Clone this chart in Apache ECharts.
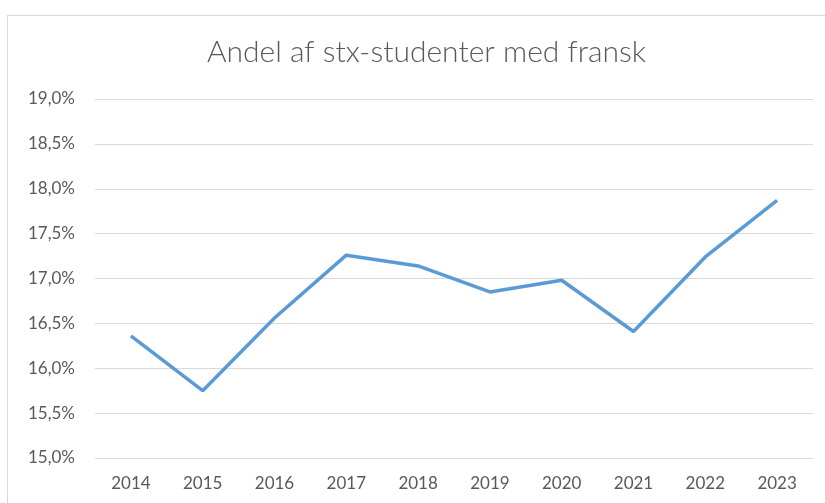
<!DOCTYPE html>
<html>
<head>
<meta charset="utf-8">
<script src="https://cdn.jsdelivr.net/npm/echarts@6/dist/echarts.min.js"></script>
<style>
  html, body { margin: 0; padding: 0; background: #fff; }
  #frame {
    position: absolute; left: 7px; top: 15px; width: 830px; height: 500px;
    border-left: 1px solid #d9d9d9; border-top: 1px solid #d9d9d9;
  }
  #myChart { position: absolute; left: 0; top: 0; width: 825px; height: 503px; }
</style>
</head>
<body>
<div id="frame"></div>
<div id="myChart"></div>
<script>
// data
const years = ["2014", "2015", "2016", "2017", "2018", "2019", "2020", "2021", "2022", "2023"];
const shareFrench = [16.36, 15.75, 16.56, 17.26, 17.14, 16.85, 16.98, 16.41, 17.24, 17.87];
const yMin = 15, yMax = 19, yStep = 0.5;

const chart = echarts.init(document.getElementById("myChart"));
const fmt = (v) => v.toFixed(1).replace(".", ",") + "%";

chart.setOption({
  animation: false,
  textStyle: { fontFamily: "Lato, 'Open Sans', sans-serif" },
  title: {
    text: "Andel af stx-studenter med fransk",
    left: 202,
    top: 32,
    textStyle: { fontSize: 30, fontWeight: 300, color: "#595959", fontFamily: "Lato, sans-serif" },
  },
  grid: { left: 95, right: 12, top: 99, bottom: 45 },
  xAxis: {
    type: "category",
    data: years,
    boundaryGap: true,
    axisLine: { show: false },
    axisTick: { show: false },
    axisLabel: { color: "#595959", fontSize: 17, margin: 17 },
  },
  yAxis: {
    type: "value",
    min: yMin,
    max: yMax,
    interval: yStep,
    axisLine: { show: false },
    axisTick: { show: false },
    splitLine: { lineStyle: { color: "#d9d9d9", width: 1 } },
    axisLabel: { color: "#595959", fontSize: 17, margin: 20, formatter: fmt },
  },
  series: [
    {
      name: "Andel",
      type: "line",
      data: shareFrench,
      symbol: "none",
      lineStyle: { color: "#5b9bd5", width: 3.5 },
    },
  ],
});
</script>
</body>
</html>
